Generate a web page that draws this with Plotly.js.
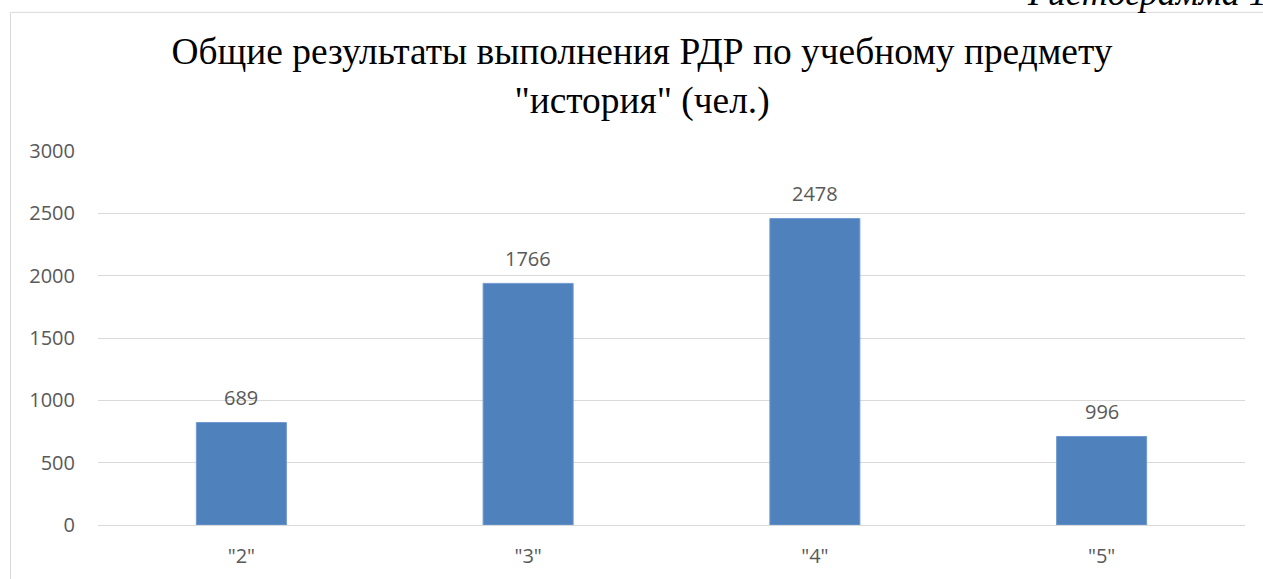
<!DOCTYPE html>
<html>
<head>
<meta charset="utf-8">
<script src="https://cdn.plot.ly/plotly-3.0.1.min.js"></script>
<style>html,body{margin:0;padding:0;background:#fff;}#chart{width:1263px;height:579px;}</style>
</head>
<body>
<div id="chart"></div>
<script>
// Data
const categories = ['"2"', '"3"', '"4"', '"5"'];
const barValues = [822, 1938, 2458, 710];        // bar heights as drawn
const labelTexts = ['689', '1766', '2478', '996']; // data labels as printed
const yTicks = [0, 500, 1000, 1500, 2000, 2500, 3000];
const titleText = 'Общие результаты выполнения РДР по учебному предмету<br>"история" (чел.)';
const captionText = 'Гистограмма 1';

const W = 1263, H = 579;
const plotL = 98, plotR = 1245, plotT = 150.5, plotB = 525.5;
const pw = plotR - plotL, ph = plotB - plotT;
const px2x = p => (p - plotL) / pw;
const px2y = p => 1 + (plotT - p) / ph;

const tickFont = {family: '"Open Sans", "Noto Sans", sans-serif', size: 20, color: '#595959'};

const annotations = categories.map((c, i) => ({
  x: c, y: barValues[i], xref: 'x', yref: 'y',
  text: labelTexts[i], showarrow: false,
  yanchor: 'middle', yshift: 25,
  font: tickFont
}));
annotations.push({
  xref: 'paper', yref: 'paper', x: px2x(1025), y: px2y(-8),
  xanchor: 'left', yanchor: 'middle', showarrow: false,
  text: '<i>' + captionText + '</i>',
  font: {family: '"Liberation Serif", "Times New Roman", serif', size: 36, color: '#000'}
});

const data = [{
  type: 'bar', x: categories, y: barValues,
  marker: {color: '#4f81bd', line: {color: '#6f9ad0', width: 1}},
  hoverinfo: 'skip'
}];

const layout = {
  width: W, height: H,
  margin: {l: plotL, r: W - plotR, t: plotT, b: H - plotB, pad: 0},
  paper_bgcolor: '#fff', plot_bgcolor: '#fff',
  showlegend: false,
  bargap: 0.686,
  title: {
    text: titleText,
    font: {family: '"Liberation Serif", "Times New Roman", serif', size: 37.4, color: '#000'},
    x: 642 / W, xanchor: 'center', xref: 'container',
    y: 1 - 64 / H, yanchor: 'top', yref: 'container'
  },
  xaxis: {
    type: 'category', showgrid: false, zeroline: false, showline: false,
    ticks: '', tickfont: tickFont, ticklabelstandoff: 17, fixedrange: true
  },
  yaxis: {
    range: [0, 3000], tickvals: yTicks, ticktext: yTicks.map(String),
    showgrid: true, gridcolor: '#d9d9d9', gridwidth: 1,
    zeroline: true, zerolinecolor: '#d9d9d9', zerolinewidth: 1,
    showline: false, ticks: '', tickfont: tickFont, ticklabelstandoff: 22,
    fixedrange: true
  },
  shapes: [{
    type: 'rect', xref: 'paper', yref: 'paper',
    x0: px2x(10.5), x1: px2x(1290), y0: px2y(620), y1: px2y(11.5),
    line: {color: '#d9d9d9', width: 1}, fillcolor: 'rgba(0,0,0,0)', layer: 'below'
  }],
  annotations: annotations
};

Plotly.newPlot('chart', data, layout, {displayModeBar: false, staticPlot: true});
</script>
</body>
</html>
